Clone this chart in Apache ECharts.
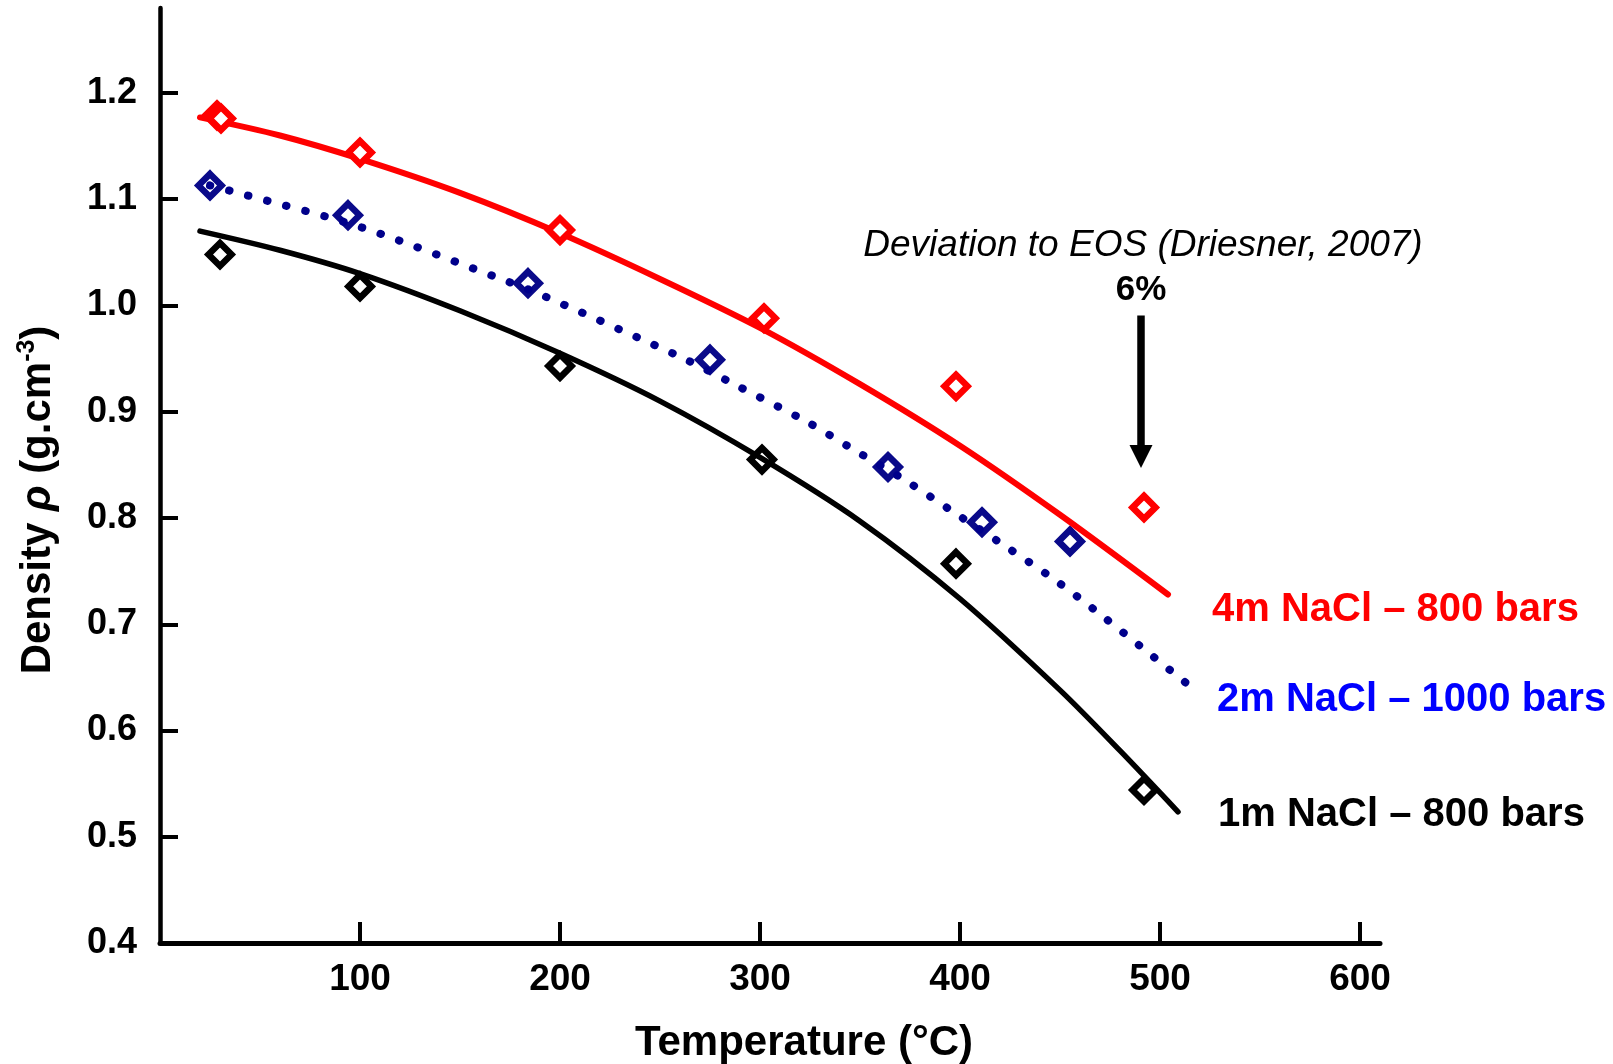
<!DOCTYPE html>
<html>
<head>
<meta charset="utf-8">
<title>NaCl solution density vs temperature</title>
<script src="https://cdn.jsdelivr.net/npm/echarts@6/dist/echarts.min.js"></script>
<style>
  html, body { margin: 0; padding: 0; background: #fff; }
  #chart { width: 1613px; height: 1064px; }
</style>
</head>
<body>
<div id="chart"></div>
<script>
// Axis ticks and labels
const xTicks = [100, 200, 300, 400, 500, 600];
const yTicks = [0.5, 0.6, 0.7, 0.8, 0.9, 1.0, 1.1, 1.2];
const yLabels = [0.4, 0.5, 0.6, 0.7, 0.8, 0.9, 1.0, 1.1, 1.2];

// Series names (also used as end-of-curve labels)
const name4m = '4m NaCl – 800 bars';
const name2m = '2m NaCl – 1000 bars';
const name1m = '1m NaCl – 800 bars';

// EOS curves: [temperature °C, density g/cm3]
const fit4m = [[20, 1.177], [60, 1.160], [100, 1.138], [150, 1.106], [200, 1.068], [250, 1.025],
               [300, 0.979], [350, 0.926], [400, 0.868], [450, 0.803], [504, 0.728]];
const fit2m = [[25, 1.113], [40, 1.1055], [100, 1.074], [171, 1.0246], [189, 1.0114], [262, 0.950],
               [288, 0.925], [323, 0.891], [348, 0.863], [373, 0.835], [398, 0.804], [423, 0.773],
               [448, 0.741], [471, 0.708], [494, 0.6735], [517, 0.6387]];
const fit1m = [[20, 1.070], [60, 1.052], [100, 1.030], [150, 0.995], [200, 0.955], [250, 0.910],
               [300, 0.857], [350, 0.797], [400, 0.724], [450, 0.638], [480, 0.581], [509, 0.5235]];

// Measured densities
const obs4m = [[28.5, 1.179], [30.5, 1.176], [100, 1.144], [200, 1.071], [302, 0.988], [398, 0.924], [492, 0.810]];
const obs2m = [[25, 1.113], [94, 1.085], [184, 1.021], [275, 0.949], [364, 0.848], [411, 0.796], [455, 0.778]];
const obs1m = [[30, 1.048], [100, 1.018], [200, 0.943], [301, 0.855], [398, 0.757], [492, 0.544]];

// Deviation arrow: temperature, start density, tip density
const arrowSpan = [490.5, 0.9905, 0.847];
const deviationText = 'Deviation to EOS (Driesner, 2007)';
const deviationValue = '6%';

const FONT = '"Liberation Sans", Arial, Helvetica, sans-serif';

const chart = echarts.init(document.getElementById('chart'), null, { renderer: 'canvas' });

function curve(name, data, color, lineStyle, labelColor, offset, z) {
  return {
    name: name,
    type: 'line',
    data: data,
    smooth: 0.3,
    showSymbol: false,
    symbol: 'none',
    z: z,
    itemStyle: { color: color },
    lineStyle: Object.assign({ color: color, cap: 'round', join: 'round' }, lineStyle),
    emphasis: { disabled: true },
    endLabel: {
      show: true,
      formatter: '{a}',
      color: labelColor,
      fontSize: 40,
      fontWeight: 'bold',
      fontFamily: FONT,
      distance: 5,
      offset: offset
    }
  };
}

function points(name, data, color, z) {
  return {
    name: name,
    type: 'scatter',
    data: data,
    symbol: 'diamond',
    symbolSize: 23,
    z: z,
    itemStyle: { color: '#ffffff', borderColor: color, borderWidth: 6.5, opacity: 1 },
    emphasis: { disabled: true }
  };
}

const option = {
  animation: false,
  backgroundColor: '#ffffff',
  grid: { left: 160, right: 233, top: 8, bottom: 121, containLabel: false },
  xAxis: {
    type: 'value',
    min: 0,
    max: 610,
    axisLine: { show: true, onZero: false, lineStyle: { color: '#000', width: 5 } },
    axisTick: { show: true, inside: true, length: 21, lineStyle: { color: '#000', width: 4 }, customValues: xTicks },
    axisLabel: { customValues: xTicks, margin: 18, color: '#000', fontSize: 37, fontWeight: 'bold', fontFamily: FONT },
    splitLine: { show: false }
  },
  yAxis: {
    type: 'value',
    min: 0.4,
    max: 1.28,
    axisLine: { show: true, onZero: false, lineStyle: { color: '#000', width: 4.5 } },
    axisTick: { show: true, inside: true, length: 18, lineStyle: { color: '#000', width: 4 }, customValues: yTicks },
    axisLabel: {
      customValues: yLabels,
      formatter: function (v) { return Number(v).toFixed(1); },
      margin: 23, color: '#000', fontSize: 36, fontWeight: 'bold', fontFamily: FONT
    },
    splitLine: { show: false }
  },
  series: [
    points('2m NaCl data', obs2m, '#0a0a8a', 2),
    points('1m NaCl data', obs1m, '#000000', 2),
    curve(name2m, fit2m, '#00008B', { width: 8, type: [0.5, 19.2] }, '#0000FF', [18, 11], 3),
    curve(name1m, fit1m, '#000000', { width: 5.5 }, '#000000', [35, 3], 3),
    curve(name4m, fit4m, '#FF0000', { width: 6 }, '#FF0000', [39, 15], 3),
    points('4m NaCl data', obs4m, '#FF0000', 4)
  ]
};

chart.setOption(option);

// Annotations anchored to the data coordinates of the deviation arrow
const arrowStart = chart.convertToPixel({ gridIndex: 0 }, [arrowSpan[0], arrowSpan[1]]);
const arrowTip = chart.convertToPixel({ gridIndex: 0 }, [arrowSpan[0], arrowSpan[2]]);
const ax = arrowStart[0];
const headLen = 23;

const boldText = { fontWeight: 'bold', fontFamily: FONT, fill: '#000' };

chart.setOption({
  graphic: [
    { type: 'line', silent: true, z: 10,
      shape: { x1: ax, y1: arrowStart[1], x2: ax, y2: arrowTip[1] - headLen + 2 },
      style: { stroke: '#000', lineWidth: 7.5 } },
    { type: 'polygon', silent: true, z: 10,
      shape: { points: [[ax - 11.5, arrowTip[1] - headLen], [ax + 11.5, arrowTip[1] - headLen], [ax, arrowTip[1]]] },
      style: { fill: '#000' } },
    { type: 'text', silent: true, z: 10, x: ax, y: arrowStart[1] - 25,
      style: Object.assign({ text: deviationValue, fontSize: 35, align: 'center', verticalAlign: 'middle' }, boldText) },
    { type: 'text', silent: true, z: 10, x: ax + 2, y: arrowStart[1] - 70,
      style: { text: deviationText, fontSize: 37, fontStyle: 'italic', fontFamily: FONT, fill: '#000',
               align: 'center', verticalAlign: 'middle' } },
    { type: 'text', silent: true, z: 10, x: 804, y: 1043,
      style: Object.assign({ text: 'Temperature (°C)', fontSize: 42, align: 'center', verticalAlign: 'middle' }, boldText) },
    { type: 'text', silent: true, z: 10, x: 38, y: 500, rotation: Math.PI / 2,
      style: {
        text: '{a|Density }{i|ρ}{a| (g.cm}{s|-3}{a|)}',
        align: 'center',
        verticalAlign: 'middle',
        rich: {
          a: { fontSize: 42, fontWeight: 'bold', fontFamily: FONT, fill: '#000', lineHeight: 46 },
          i: { fontSize: 42, fontWeight: 'bold', fontStyle: 'italic', fontFamily: FONT, fill: '#000', lineHeight: 46 },
          s: { fontSize: 25, fontWeight: 'bold', fontFamily: FONT, fill: '#000', lineHeight: 46, verticalAlign: 'top' }
        }
      } }
  ]
});
</script>
</body>
</html>
